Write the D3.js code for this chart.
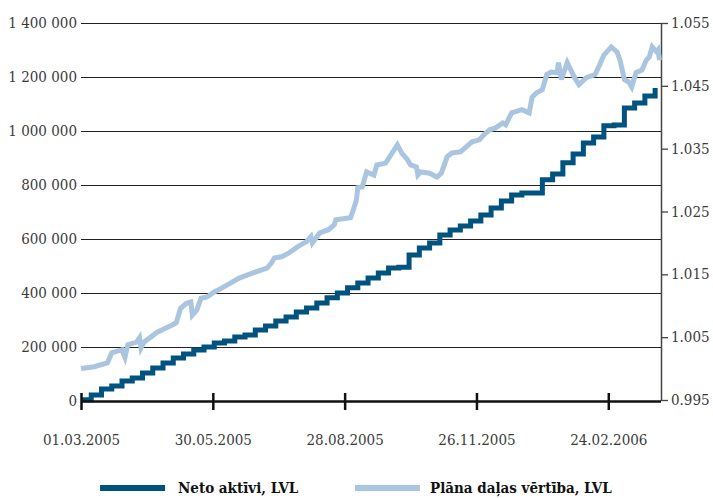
<!DOCTYPE html>
<html>
<head>
<meta charset="utf-8">
<script src="https://cdn.jsdelivr.net/npm/d3@7"></script>
<style>
  body { margin: 0; background: #fff; }
</style>
</head>
<body>
<svg id="chart"></svg>
<script>
// weekly net assets (left axis, LVL)
var netDates = ["2005-03-01","2005-03-08","2005-03-15","2005-03-22","2005-03-29","2005-04-05","2005-04-12","2005-04-19",
  "2005-04-26","2005-05-03","2005-05-10","2005-05-17","2005-05-24","2005-05-31","2005-06-07","2005-06-14","2005-06-21",
  "2005-06-28","2005-07-05","2005-07-12","2005-07-19","2005-07-26","2005-08-02","2005-08-09","2005-08-16","2005-08-23",
  "2005-08-30","2005-09-06","2005-09-13","2005-09-20","2005-09-27","2005-10-04","2005-10-11","2005-10-18","2005-10-25",
  "2005-11-01","2005-11-08","2005-11-15","2005-11-22","2005-11-29","2005-12-06","2005-12-13","2005-12-20","2005-12-27",
  "2006-01-03","2006-01-10","2006-01-17","2006-01-24","2006-01-31","2006-02-07","2006-02-14","2006-02-21","2006-02-28",
  "2006-03-07","2006-03-14","2006-03-21","2006-03-28"];
var netValues = [5000, 22000, 44000, 56000, 74000, 85000, 104000, 122000, 141000, 159000, 174000, 189000, 200000,
  215000, 222000, 237000, 244000, 263000, 278000, 296000, 311000, 330000, 344000, 363000, 382000, 400000, 419000,
  437000, 456000, 474000, 493000, 495000, 541000, 567000, 585000, 615000, 633000, 648000, 667000, 689000, 715000,
  741000, 763000, 770000, 770000, 819000, 841000, 882000, 915000, 956000, 978000, 1019000, 1022000, 1085000,
  1104000, 1130000, 1159000];

// unit value of the plan (right axis)
var unitDates = ["2005-03-01","2005-03-10","2005-03-19","2005-03-22","2005-03-29","2005-03-31","2005-04-02","2005-04-08",
  "2005-04-10","2005-04-11","2005-04-13","2005-04-22","2005-05-02","2005-05-05","2005-05-08","2005-05-12","2005-05-15",
  "2005-05-16","2005-05-19","2005-05-22","2005-05-26","2005-05-31","2005-06-05","2005-06-17","2005-06-26","2005-07-06",
  "2005-07-09","2005-07-11","2005-07-16","2005-07-21","2005-07-27","2005-08-02","2005-08-05","2005-08-06","2005-08-11",
  "2005-08-17","2005-08-21","2005-08-22","2005-09-01","2005-09-03","2005-09-05","2005-09-06","2005-09-09","2005-09-12",
  "2005-09-17","2005-09-19","2005-09-25","2005-10-03","2005-10-06","2005-10-10","2005-10-12","2005-10-16","2005-10-17",
  "2005-10-19","2005-10-25","2005-10-30","2005-11-02","2005-11-06","2005-11-09","2005-11-15","2005-11-19","2005-11-23",
  "2005-11-28","2005-12-01","2005-12-05","2005-12-09","2005-12-14","2005-12-16","2005-12-20","2005-12-27","2006-01-01",
  "2006-01-03","2006-01-06","2006-01-10","2006-01-13","2006-01-16","2006-01-20","2006-01-21","2006-01-23","2006-01-27",
  "2006-02-01","2006-02-04","2006-02-09","2006-02-15","2006-02-18","2006-02-21","2006-02-26","2006-03-02","2006-03-04",
  "2006-03-07","2006-03-10","2006-03-12","2006-03-15","2006-03-19","2006-03-22","2006-03-24","2006-03-26","2006-03-29",
  "2006-03-30","2006-03-31"];
var unitValues = [1.0000, 1.0003, 1.0009, 1.0025, 1.0030, 1.0018, 1.0038, 1.0042, 1.0049, 1.0033, 1.0042, 1.0058,
  1.0069, 1.0073, 1.0096, 1.0104, 1.0106, 1.0085, 1.0093, 1.0112, 1.0114, 1.0122, 1.0128, 1.0144, 1.0152, 1.0160,
  1.0168, 1.0176, 1.0178, 1.0184, 1.0194, 1.0202, 1.0210, 1.0200, 1.0216, 1.0221, 1.0229, 1.0237, 1.0240, 1.0253,
  1.0268, 1.0288, 1.0289, 1.0313, 1.0308, 1.0324, 1.0327, 1.0356, 1.0343, 1.0332, 1.0324, 1.0321, 1.0308, 1.0313,
  1.0311, 1.0305, 1.0311, 1.0337, 1.0343, 1.0345, 1.0353, 1.0361, 1.0364, 1.0372, 1.0380, 1.0383, 1.0391, 1.0388,
  1.0407, 1.0412, 1.0407, 1.0432, 1.0439, 1.0444, 1.0468, 1.0472, 1.0471, 1.0487, 1.0460, 1.0487, 1.0463, 1.0452,
  1.0463, 1.0468, 1.0483, 1.0499, 1.0512, 1.0504, 1.0491, 1.0460, 1.0456, 1.0448, 1.0471, 1.0475, 1.0491, 1.0496,
  1.0512, 1.0504, 1.0507, 1.0491];

var leftTicks = [0, 200000, 400000, 600000, 800000, 1000000, 1200000, 1400000];
var leftLabels = ["0", "200 000", "400 000", "600 000", "800 000", "1 000 000", "1 200 000", "1 400 000"];
var rightTicks = [0.995, 1.005, 1.015, 1.025, 1.035, 1.045, 1.055];
var rightLabels = ["0.995", "1.005", "1.015", "1.025", "1.035", "1.045", "1.055"];
var xTicks = ["2005-03-01", "2005-05-30", "2005-08-28", "2005-11-26", "2006-02-24"];
var xLabels = ["01.03.2005", "30.05.2005", "28.08.2005", "26.11.2005", "24.02.2006"];
var seriesNames = ["Neto aktīvi, LVL", "Plāna daļas vērtība, LVL"];

const svgWidth = 713, svgHeight = 498;
var margin = {top: 23, right: 52, bottom: 97, left: 81},
    width = svgWidth - margin.left - margin.right,
    height = svgHeight - margin.top - margin.bottom;

var darkBlue = "#00527f", lightBlue = "#a9c5df";
var serif = "'DejaVu Serif Condensed', 'DejaVu Serif', 'Liberation Serif', serif";
var parse = d3.timeParse("%Y-%m-%d");

var svg = d3.select("#chart")
    .attr("width", svgWidth)
    .attr("height", svgHeight)
  .append("g")
    .attr("transform", "translate(" + margin.left + "," + margin.top + ")");

var x = d3.scaleTime()
  .domain([parse("2005-03-01"), parse("2006-04-01")])
  .range([0, width]);
var yLeft = d3.scaleLinear().domain([0, 1400000]).range([height, 0]);
var yRight = d3.scaleLinear().domain([0.995, 1.055]).range([height - 1, 0]);

function styleText(sel) {
  sel.attr("font-family", serif).style("font-family", serif)
    .attr("fill", "#3a3a3a").style("font-size", "15px");
}

// gridlines + left labels
var gLeft = svg.append("g")
  .call(d3.axisLeft(yLeft).tickValues(leftTicks).tickSize(-width).tickPadding(4)
    .tickFormat(function(d, i) { return leftLabels[i]; }));
gLeft.attr("font-family", serif);
gLeft.select(".domain").remove();
gLeft.selectAll("line").attr("stroke", "#222").attr("stroke-width", 1.2)
  .filter(function(d) { return d === 0; }).remove();
gLeft.selectAll("text").call(styleText).attr("dy", "0.3em");

// right axis
var gRight = svg.append("g")
  .attr("transform", "translate(" + width + ",0)")
  .call(d3.axisRight(yRight).tickValues(rightTicks).tickSize(7).tickPadding(3)
    .tickFormat(function(d, i) { return rightLabels[i]; }));
gRight.attr("font-family", serif);
gRight.select(".domain").attr("stroke", "#444").attr("stroke-width", 1.5).attr("d", "M0.5,0V" + height);
gRight.selectAll("line").attr("stroke", "#444").attr("stroke-width", 1.3);
gRight.selectAll("text").call(styleText).attr("dy", "0.3em");

// lines
var unitData = unitDates.map(function(d, i) { return {date: parse(d), value: unitValues[i]}; });
var netData = netDates.map(function(d, i) { return {date: parse(d), value: netValues[i]}; });

svg.append("path")
  .datum(unitData)
  .attr("fill", "none")
  .attr("stroke", lightBlue)
  .attr("stroke-width", 5)
  .attr("d", d3.line().x(function(d) { return x(d.date); }).y(function(d) { return yRight(d.value); }));

svg.append("path")
  .datum(netData)
  .attr("fill", "none")
  .attr("stroke", darkBlue)
  .attr("stroke-width", 5)
  .attr("d", d3.line().curve(d3.curveStepAfter)
    .x(function(d) { return x(d.date); }).y(function(d) { return yLeft(d.value); }));

// x axis
var gX = svg.append("g")
  .attr("transform", "translate(0," + height + ")")
  .call(d3.axisBottom(x).tickValues(xTicks.map(parse)).tickSize(9).tickPadding(24)
    .tickFormat(function(d, i) { return xLabels[i]; }));
gX.attr("font-family", serif);
gX.select(".domain").attr("stroke", "#111").attr("stroke-width", 2.5).attr("d", "M0,0.5H" + width);
gX.selectAll("line").attr("stroke", "#111").attr("stroke-width", 2.5).attr("y1", -8).attr("y2", 9);
gX.selectAll("text").call(styleText);

// legend
var legend = svg.append("g").attr("transform", "translate(0," + (height + 87) + ")");
var legendX = [19, 274];
[darkBlue, lightBlue].forEach(function(c, i) {
  legend.append("line")
    .attr("x1", legendX[i]).attr("x2", legendX[i] + 65)
    .attr("stroke", c).attr("stroke-width", 6);
  legend.append("text")
    .attr("x", legendX[i] + (i === 0 ? 78 : 75)).attr("dy", "0.32em")
    .call(styleText)
    .style("font-weight", "bold").attr("fill", "#111")
    .text(seriesNames[i]);
});
</script>
</body>
</html>
